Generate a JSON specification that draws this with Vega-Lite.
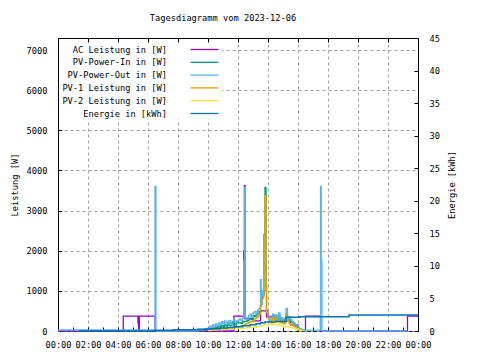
{
  "$schema": "https://vega.github.io/schema/vega-lite/v6.json",
  "autosize": {"type": "none"},
  "padding": {"left": 58, "top": 38, "right": 62, "bottom": 29},
  "width": 360,
  "height": 293,
  "background": "white",
  "title": {"text": "Tagesdiagramm vom 2023-12-06", "font": "DejaVu Sans Mono", "fontSize": 8.7, "fontWeight": "normal", "offset": 11, "dx": -15, "color": "black"},
  "config": {
    "view": {"stroke": "black", "strokeWidth": 1},
    "font": "DejaVu Sans Mono",
    "axis": {"labelFont": "DejaVu Sans Mono", "labelFontSize": 8.7, "labelColor": "black", "titleFont": "DejaVu Sans Mono", "titleFontSize": 8.7, "titleFontWeight": "normal", "titleColor": "black", "domain": false, "tickColor": "black", "tickSize": -4, "gridColor": "#a0a0a0", "gridDash": [3, 3], "gridWidth": 1},
    "legend": {"orient": "none", "legendX": 1, "legendY": 6, "title": null, "symbolType": "M-3,0H3", "symbolSize": 87, "symbolStrokeWidth": 1.3, "symbolOffset": 140, "labelAlign": "right", "labelOffset": -43, "labelFont": "DejaVu Sans Mono", "labelFontSize": 8.7, "labelColor": "black", "rowPadding": 1.8, "fillColor": "white", "padding": 0}
  },
  "data": {"values": [
    {"h": 0, "s": "AC Leistung in [W]", "v": 0},
    {"h": 4.35, "s": "AC Leistung in [W]", "v": 370},
    {"h": 5.33, "s": "AC Leistung in [W]", "v": 200},
    {"h": 5.37, "s": "AC Leistung in [W]", "v": 0},
    {"h": 5.42, "s": "AC Leistung in [W]", "v": 370},
    {"h": 6.47, "s": "AC Leistung in [W]", "v": 0},
    {"h": 11.73, "s": "AC Leistung in [W]", "v": 370},
    {"h": 12.38, "s": "AC Leistung in [W]", "v": 2000},
    {"h": 12.43, "s": "AC Leistung in [W]", "v": 3620},
    {"h": 12.47, "s": "AC Leistung in [W]", "v": 300},
    {"h": 13.0, "s": "AC Leistung in [W]", "v": 250},
    {"h": 13.5, "s": "AC Leistung in [W]", "v": 500},
    {"h": 13.9, "s": "AC Leistung in [W]", "v": 350},
    {"h": 14.5, "s": "AC Leistung in [W]", "v": 250},
    {"h": 15.5, "s": "AC Leistung in [W]", "v": 150},
    {"h": 16.0, "s": "AC Leistung in [W]", "v": 30},
    {"h": 16.5, "s": "AC Leistung in [W]", "v": 370},
    {"h": 17.5, "s": "AC Leistung in [W]", "v": 0},
    {"h": 23.3, "s": "AC Leistung in [W]", "v": 370},
    {"h": 24, "s": "AC Leistung in [W]", "v": 370},

    {"h": 9.3, "s": "PV-Power-In in [W]", "v": 10},
    {"h": 9.4, "s": "PV-Power-In in [W]", "v": 15},
    {"h": 9.5, "s": "PV-Power-In in [W]", "v": 10},
    {"h": 9.6, "s": "PV-Power-In in [W]", "v": 20},
    {"h": 9.7, "s": "PV-Power-In in [W]", "v": 30},
    {"h": 9.8, "s": "PV-Power-In in [W]", "v": 25},
    {"h": 9.9, "s": "PV-Power-In in [W]", "v": 40},
    {"h": 10.0, "s": "PV-Power-In in [W]", "v": 50},
    {"h": 10.1, "s": "PV-Power-In in [W]", "v": 60},
    {"h": 10.2, "s": "PV-Power-In in [W]", "v": 50},
    {"h": 10.3, "s": "PV-Power-In in [W]", "v": 80},
    {"h": 10.4, "s": "PV-Power-In in [W]", "v": 70},
    {"h": 10.5, "s": "PV-Power-In in [W]", "v": 100},
    {"h": 10.6, "s": "PV-Power-In in [W]", "v": 90},
    {"h": 10.7, "s": "PV-Power-In in [W]", "v": 120},
    {"h": 10.8, "s": "PV-Power-In in [W]", "v": 100},
    {"h": 10.9, "s": "PV-Power-In in [W]", "v": 140},
    {"h": 11.0, "s": "PV-Power-In in [W]", "v": 110},
    {"h": 11.1, "s": "PV-Power-In in [W]", "v": 150},
    {"h": 11.2, "s": "PV-Power-In in [W]", "v": 120},
    {"h": 11.3, "s": "PV-Power-In in [W]", "v": 200},
    {"h": 11.4, "s": "PV-Power-In in [W]", "v": 140},
    {"h": 11.5, "s": "PV-Power-In in [W]", "v": 130},
    {"h": 11.6, "s": "PV-Power-In in [W]", "v": 210},
    {"h": 11.7, "s": "PV-Power-In in [W]", "v": 190},
    {"h": 11.8, "s": "PV-Power-In in [W]", "v": 150},
    {"h": 11.9, "s": "PV-Power-In in [W]", "v": 220},
    {"h": 12.0, "s": "PV-Power-In in [W]", "v": 200},
    {"h": 12.1, "s": "PV-Power-In in [W]", "v": 210},
    {"h": 12.2, "s": "PV-Power-In in [W]", "v": 190},
    {"h": 12.3, "s": "PV-Power-In in [W]", "v": 230},
    {"h": 12.4, "s": "PV-Power-In in [W]", "v": 240},
    {"h": 12.5, "s": "PV-Power-In in [W]", "v": 240},
    {"h": 12.6, "s": "PV-Power-In in [W]", "v": 260},
    {"h": 12.7, "s": "PV-Power-In in [W]", "v": 280},
    {"h": 12.8, "s": "PV-Power-In in [W]", "v": 320},
    {"h": 12.9, "s": "PV-Power-In in [W]", "v": 290},
    {"h": 13.0, "s": "PV-Power-In in [W]", "v": 380},
    {"h": 13.1, "s": "PV-Power-In in [W]", "v": 360},
    {"h": 13.2, "s": "PV-Power-In in [W]", "v": 400},
    {"h": 13.3, "s": "PV-Power-In in [W]", "v": 430},
    {"h": 13.4, "s": "PV-Power-In in [W]", "v": 480},
    {"h": 13.5, "s": "PV-Power-In in [W]", "v": 650},
    {"h": 13.6, "s": "PV-Power-In in [W]", "v": 850},
    {"h": 13.68, "s": "PV-Power-In in [W]", "v": 900},
    {"h": 13.73, "s": "PV-Power-In in [W]", "v": 2400},
    {"h": 13.8, "s": "PV-Power-In in [W]", "v": 3580},
    {"h": 13.87, "s": "PV-Power-In in [W]", "v": 1150},
    {"h": 13.9, "s": "PV-Power-In in [W]", "v": 480},
    {"h": 14.0, "s": "PV-Power-In in [W]", "v": 340},
    {"h": 14.1, "s": "PV-Power-In in [W]", "v": 260},
    {"h": 14.2, "s": "PV-Power-In in [W]", "v": 230},
    {"h": 14.3, "s": "PV-Power-In in [W]", "v": 380},
    {"h": 14.4, "s": "PV-Power-In in [W]", "v": 300},
    {"h": 14.5, "s": "PV-Power-In in [W]", "v": 350},
    {"h": 14.6, "s": "PV-Power-In in [W]", "v": 270},
    {"h": 14.7, "s": "PV-Power-In in [W]", "v": 380},
    {"h": 14.8, "s": "PV-Power-In in [W]", "v": 250},
    {"h": 14.9, "s": "PV-Power-In in [W]", "v": 290},
    {"h": 15.0, "s": "PV-Power-In in [W]", "v": 230},
    {"h": 15.1, "s": "PV-Power-In in [W]", "v": 300},
    {"h": 15.2, "s": "PV-Power-In in [W]", "v": 420},
    {"h": 15.3, "s": "PV-Power-In in [W]", "v": 260},
    {"h": 15.4, "s": "PV-Power-In in [W]", "v": 300},
    {"h": 15.5, "s": "PV-Power-In in [W]", "v": 240},
    {"h": 15.6, "s": "PV-Power-In in [W]", "v": 200},
    {"h": 15.7, "s": "PV-Power-In in [W]", "v": 170},
    {"h": 15.8, "s": "PV-Power-In in [W]", "v": 130},
    {"h": 15.9, "s": "PV-Power-In in [W]", "v": 100},
    {"h": 16.0, "s": "PV-Power-In in [W]", "v": 70},
    {"h": 16.1, "s": "PV-Power-In in [W]", "v": 50},
    {"h": 16.2, "s": "PV-Power-In in [W]", "v": 30},
    {"h": 16.3, "s": "PV-Power-In in [W]", "v": 20},
    {"h": 16.4, "s": "PV-Power-In in [W]", "v": 15},
    {"h": 16.5, "s": "PV-Power-In in [W]", "v": 0},

    {"h": 0, "s": "PV-Power-Out in [W]", "v": 25},
    {"h": 6.47, "s": "PV-Power-Out in [W]", "v": 3600},
    {"h": 6.53, "s": "PV-Power-Out in [W]", "v": 0},
    {"h": 9.3, "s": "PV-Power-Out in [W]", "v": 30},
    {"h": 9.4, "s": "PV-Power-Out in [W]", "v": 40},
    {"h": 9.5, "s": "PV-Power-Out in [W]", "v": 25},
    {"h": 9.6, "s": "PV-Power-Out in [W]", "v": 35},
    {"h": 9.7, "s": "PV-Power-Out in [W]", "v": 50},
    {"h": 9.8, "s": "PV-Power-Out in [W]", "v": 40},
    {"h": 9.9, "s": "PV-Power-Out in [W]", "v": 60},
    {"h": 10.0, "s": "PV-Power-Out in [W]", "v": 80},
    {"h": 10.1, "s": "PV-Power-Out in [W]", "v": 120},
    {"h": 10.2, "s": "PV-Power-Out in [W]", "v": 90},
    {"h": 10.3, "s": "PV-Power-Out in [W]", "v": 150},
    {"h": 10.4, "s": "PV-Power-Out in [W]", "v": 110},
    {"h": 10.5, "s": "PV-Power-Out in [W]", "v": 180},
    {"h": 10.6, "s": "PV-Power-Out in [W]", "v": 130},
    {"h": 10.7, "s": "PV-Power-Out in [W]", "v": 200},
    {"h": 10.8, "s": "PV-Power-Out in [W]", "v": 160},
    {"h": 10.9, "s": "PV-Power-Out in [W]", "v": 230},
    {"h": 11.0, "s": "PV-Power-Out in [W]", "v": 180},
    {"h": 11.1, "s": "PV-Power-Out in [W]", "v": 250},
    {"h": 11.2, "s": "PV-Power-Out in [W]", "v": 170},
    {"h": 11.3, "s": "PV-Power-Out in [W]", "v": 220},
    {"h": 11.4, "s": "PV-Power-Out in [W]", "v": 260},
    {"h": 11.5, "s": "PV-Power-Out in [W]", "v": 190},
    {"h": 11.6, "s": "PV-Power-Out in [W]", "v": 240},
    {"h": 11.7, "s": "PV-Power-Out in [W]", "v": 280},
    {"h": 11.8, "s": "PV-Power-Out in [W]", "v": 210},
    {"h": 11.9, "s": "PV-Power-Out in [W]", "v": 250},
    {"h": 12.0, "s": "PV-Power-Out in [W]", "v": 270},
    {"h": 12.1, "s": "PV-Power-Out in [W]", "v": 300},
    {"h": 12.2, "s": "PV-Power-Out in [W]", "v": 260},
    {"h": 12.3, "s": "PV-Power-Out in [W]", "v": 320},
    {"h": 12.38, "s": "PV-Power-Out in [W]", "v": 1750},
    {"h": 12.43, "s": "PV-Power-Out in [W]", "v": 3580},
    {"h": 12.47, "s": "PV-Power-Out in [W]", "v": 330},
    {"h": 12.6, "s": "PV-Power-Out in [W]", "v": 300},
    {"h": 12.7, "s": "PV-Power-Out in [W]", "v": 380},
    {"h": 12.8, "s": "PV-Power-Out in [W]", "v": 420},
    {"h": 12.9, "s": "PV-Power-Out in [W]", "v": 360},
    {"h": 13.0, "s": "PV-Power-Out in [W]", "v": 450},
    {"h": 13.1, "s": "PV-Power-Out in [W]", "v": 480},
    {"h": 13.2, "s": "PV-Power-Out in [W]", "v": 430},
    {"h": 13.3, "s": "PV-Power-Out in [W]", "v": 520},
    {"h": 13.4, "s": "PV-Power-Out in [W]", "v": 560},
    {"h": 13.5, "s": "PV-Power-Out in [W]", "v": 1280},
    {"h": 13.55, "s": "PV-Power-Out in [W]", "v": 800},
    {"h": 13.6, "s": "PV-Power-Out in [W]", "v": 1000},
    {"h": 13.68, "s": "PV-Power-Out in [W]", "v": 900},
    {"h": 13.73, "s": "PV-Power-Out in [W]", "v": 1000},
    {"h": 13.87, "s": "PV-Power-Out in [W]", "v": 1150},
    {"h": 13.9, "s": "PV-Power-Out in [W]", "v": 520},
    {"h": 14.0, "s": "PV-Power-Out in [W]", "v": 380},
    {"h": 14.1, "s": "PV-Power-Out in [W]", "v": 300},
    {"h": 14.2, "s": "PV-Power-Out in [W]", "v": 250},
    {"h": 14.3, "s": "PV-Power-Out in [W]", "v": 420},
    {"h": 14.4, "s": "PV-Power-Out in [W]", "v": 330},
    {"h": 14.5, "s": "PV-Power-Out in [W]", "v": 400},
    {"h": 14.6, "s": "PV-Power-Out in [W]", "v": 300},
    {"h": 14.7, "s": "PV-Power-Out in [W]", "v": 450},
    {"h": 14.8, "s": "PV-Power-Out in [W]", "v": 280},
    {"h": 14.9, "s": "PV-Power-Out in [W]", "v": 330},
    {"h": 15.0, "s": "PV-Power-Out in [W]", "v": 260},
    {"h": 15.1, "s": "PV-Power-Out in [W]", "v": 300},
    {"h": 15.2, "s": "PV-Power-Out in [W]", "v": 560},
    {"h": 15.3, "s": "PV-Power-Out in [W]", "v": 300},
    {"h": 15.4, "s": "PV-Power-Out in [W]", "v": 350},
    {"h": 15.5, "s": "PV-Power-Out in [W]", "v": 280},
    {"h": 15.6, "s": "PV-Power-Out in [W]", "v": 230},
    {"h": 15.7, "s": "PV-Power-Out in [W]", "v": 200},
    {"h": 15.8, "s": "PV-Power-Out in [W]", "v": 160},
    {"h": 15.9, "s": "PV-Power-Out in [W]", "v": 120},
    {"h": 16.0, "s": "PV-Power-Out in [W]", "v": 80},
    {"h": 16.1, "s": "PV-Power-Out in [W]", "v": 60},
    {"h": 16.2, "s": "PV-Power-Out in [W]", "v": 40},
    {"h": 16.3, "s": "PV-Power-Out in [W]", "v": 30},
    {"h": 16.4, "s": "PV-Power-Out in [W]", "v": 25},
    {"h": 16.5, "s": "PV-Power-Out in [W]", "v": 20},
    {"h": 17.5, "s": "PV-Power-Out in [W]", "v": 3600},
    {"h": 17.55, "s": "PV-Power-Out in [W]", "v": 1760},
    {"h": 17.6, "s": "PV-Power-Out in [W]", "v": 0},
    {"h": 23.3, "s": "PV-Power-Out in [W]", "v": 0},

    {"h": 10.0, "s": "PV-1 Leistung in [W]", "v": 20},
    {"h": 10.1, "s": "PV-1 Leistung in [W]", "v": 25},
    {"h": 10.2, "s": "PV-1 Leistung in [W]", "v": 30},
    {"h": 10.3, "s": "PV-1 Leistung in [W]", "v": 35},
    {"h": 10.4, "s": "PV-1 Leistung in [W]", "v": 40},
    {"h": 10.5, "s": "PV-1 Leistung in [W]", "v": 45},
    {"h": 10.6, "s": "PV-1 Leistung in [W]", "v": 40},
    {"h": 10.7, "s": "PV-1 Leistung in [W]", "v": 50},
    {"h": 10.8, "s": "PV-1 Leistung in [W]", "v": 55},
    {"h": 10.9, "s": "PV-1 Leistung in [W]", "v": 60},
    {"h": 11.0, "s": "PV-1 Leistung in [W]", "v": 65},
    {"h": 11.1, "s": "PV-1 Leistung in [W]", "v": 70},
    {"h": 11.2, "s": "PV-1 Leistung in [W]", "v": 60},
    {"h": 11.3, "s": "PV-1 Leistung in [W]", "v": 75},
    {"h": 11.4, "s": "PV-1 Leistung in [W]", "v": 80},
    {"h": 11.5, "s": "PV-1 Leistung in [W]", "v": 70},
    {"h": 11.6, "s": "PV-1 Leistung in [W]", "v": 85},
    {"h": 11.7, "s": "PV-1 Leistung in [W]", "v": 90},
    {"h": 11.8, "s": "PV-1 Leistung in [W]", "v": 95},
    {"h": 11.9, "s": "PV-1 Leistung in [W]", "v": 100},
    {"h": 12.0, "s": "PV-1 Leistung in [W]", "v": 110},
    {"h": 12.1, "s": "PV-1 Leistung in [W]", "v": 120},
    {"h": 12.2, "s": "PV-1 Leistung in [W]", "v": 130},
    {"h": 12.3, "s": "PV-1 Leistung in [W]", "v": 140},
    {"h": 12.4, "s": "PV-1 Leistung in [W]", "v": 150},
    {"h": 12.5, "s": "PV-1 Leistung in [W]", "v": 170},
    {"h": 12.6, "s": "PV-1 Leistung in [W]", "v": 190},
    {"h": 12.7, "s": "PV-1 Leistung in [W]", "v": 210},
    {"h": 12.8, "s": "PV-1 Leistung in [W]", "v": 240},
    {"h": 12.9, "s": "PV-1 Leistung in [W]", "v": 230},
    {"h": 13.0, "s": "PV-1 Leistung in [W]", "v": 260},
    {"h": 13.1, "s": "PV-1 Leistung in [W]", "v": 300},
    {"h": 13.2, "s": "PV-1 Leistung in [W]", "v": 330},
    {"h": 13.3, "s": "PV-1 Leistung in [W]", "v": 360},
    {"h": 13.4, "s": "PV-1 Leistung in [W]", "v": 420},
    {"h": 13.5, "s": "PV-1 Leistung in [W]", "v": 600},
    {"h": 13.55, "s": "PV-1 Leistung in [W]", "v": 750},
    {"h": 13.6, "s": "PV-1 Leistung in [W]", "v": 800},
    {"h": 13.68, "s": "PV-1 Leistung in [W]", "v": 850},
    {"h": 13.73, "s": "PV-1 Leistung in [W]", "v": 2250},
    {"h": 13.8, "s": "PV-1 Leistung in [W]", "v": 3370},
    {"h": 13.87, "s": "PV-1 Leistung in [W]", "v": 1100},
    {"h": 13.9, "s": "PV-1 Leistung in [W]", "v": 450},
    {"h": 14.0, "s": "PV-1 Leistung in [W]", "v": 300},
    {"h": 14.1, "s": "PV-1 Leistung in [W]", "v": 220},
    {"h": 14.2, "s": "PV-1 Leistung in [W]", "v": 200},
    {"h": 14.3, "s": "PV-1 Leistung in [W]", "v": 330},
    {"h": 14.4, "s": "PV-1 Leistung in [W]", "v": 260},
    {"h": 14.5, "s": "PV-1 Leistung in [W]", "v": 300},
    {"h": 14.6, "s": "PV-1 Leistung in [W]", "v": 230},
    {"h": 14.7, "s": "PV-1 Leistung in [W]", "v": 260},
    {"h": 14.8, "s": "PV-1 Leistung in [W]", "v": 200},
    {"h": 14.9, "s": "PV-1 Leistung in [W]", "v": 240},
    {"h": 15.0, "s": "PV-1 Leistung in [W]", "v": 180},
    {"h": 15.1, "s": "PV-1 Leistung in [W]", "v": 200},
    {"h": 15.2, "s": "PV-1 Leistung in [W]", "v": 400},
    {"h": 15.3, "s": "PV-1 Leistung in [W]", "v": 250},
    {"h": 15.4, "s": "PV-1 Leistung in [W]", "v": 190},
    {"h": 15.5, "s": "PV-1 Leistung in [W]", "v": 160},
    {"h": 15.6, "s": "PV-1 Leistung in [W]", "v": 150},
    {"h": 15.7, "s": "PV-1 Leistung in [W]", "v": 120},
    {"h": 15.8, "s": "PV-1 Leistung in [W]", "v": 90},
    {"h": 15.9, "s": "PV-1 Leistung in [W]", "v": 60},
    {"h": 16.0, "s": "PV-1 Leistung in [W]", "v": 40},
    {"h": 16.1, "s": "PV-1 Leistung in [W]", "v": 25},
    {"h": 16.2, "s": "PV-1 Leistung in [W]", "v": 10},
    {"h": 16.3, "s": "PV-1 Leistung in [W]", "v": 0},

    {"h": 10.0, "s": "PV-2 Leistung in [W]", "v": 15},
    {"h": 10.2, "s": "PV-2 Leistung in [W]", "v": 20},
    {"h": 10.4, "s": "PV-2 Leistung in [W]", "v": 25},
    {"h": 10.6, "s": "PV-2 Leistung in [W]", "v": 30},
    {"h": 10.8, "s": "PV-2 Leistung in [W]", "v": 30},
    {"h": 11.0, "s": "PV-2 Leistung in [W]", "v": 35},
    {"h": 11.2, "s": "PV-2 Leistung in [W]", "v": 40},
    {"h": 11.4, "s": "PV-2 Leistung in [W]", "v": 45},
    {"h": 11.6, "s": "PV-2 Leistung in [W]", "v": 50},
    {"h": 11.8, "s": "PV-2 Leistung in [W]", "v": 55},
    {"h": 12.0, "s": "PV-2 Leistung in [W]", "v": 60},
    {"h": 12.2, "s": "PV-2 Leistung in [W]", "v": 70},
    {"h": 12.4, "s": "PV-2 Leistung in [W]", "v": 75},
    {"h": 12.6, "s": "PV-2 Leistung in [W]", "v": 85},
    {"h": 12.8, "s": "PV-2 Leistung in [W]", "v": 90},
    {"h": 13.0, "s": "PV-2 Leistung in [W]", "v": 100},
    {"h": 13.2, "s": "PV-2 Leistung in [W]", "v": 110},
    {"h": 13.4, "s": "PV-2 Leistung in [W]", "v": 130},
    {"h": 13.6, "s": "PV-2 Leistung in [W]", "v": 150},
    {"h": 13.8, "s": "PV-2 Leistung in [W]", "v": 160},
    {"h": 14.0, "s": "PV-2 Leistung in [W]", "v": 170},
    {"h": 14.1, "s": "PV-2 Leistung in [W]", "v": 180},
    {"h": 14.2, "s": "PV-2 Leistung in [W]", "v": 160},
    {"h": 14.3, "s": "PV-2 Leistung in [W]", "v": 190},
    {"h": 14.4, "s": "PV-2 Leistung in [W]", "v": 170},
    {"h": 14.6, "s": "PV-2 Leistung in [W]", "v": 150},
    {"h": 14.8, "s": "PV-2 Leistung in [W]", "v": 130},
    {"h": 15.0, "s": "PV-2 Leistung in [W]", "v": 110},
    {"h": 15.2, "s": "PV-2 Leistung in [W]", "v": 95},
    {"h": 15.4, "s": "PV-2 Leistung in [W]", "v": 85},
    {"h": 15.6, "s": "PV-2 Leistung in [W]", "v": 70},
    {"h": 15.8, "s": "PV-2 Leistung in [W]", "v": 50},
    {"h": 16.0, "s": "PV-2 Leistung in [W]", "v": 30},
    {"h": 16.2, "s": "PV-2 Leistung in [W]", "v": 10},
    {"h": 16.4, "s": "PV-2 Leistung in [W]", "v": 0},

    {"h": 1.4, "s": "Energie in [kWh]", "v": 0},
    {"h": 6.47, "s": "Energie in [kWh]", "v": 0.1},
    {"h": 7.7, "s": "Energie in [kWh]", "v": 0.2},
    {"h": 9.3, "s": "Energie in [kWh]", "v": 0.25},
    {"h": 9.8, "s": "Energie in [kWh]", "v": 0.3},
    {"h": 10.3, "s": "Energie in [kWh]", "v": 0.35},
    {"h": 10.8, "s": "Energie in [kWh]", "v": 0.45},
    {"h": 11.3, "s": "Energie in [kWh]", "v": 0.55},
    {"h": 11.8, "s": "Energie in [kWh]", "v": 0.65},
    {"h": 12.3, "s": "Energie in [kWh]", "v": 0.8},
    {"h": 12.8, "s": "Energie in [kWh]", "v": 0.95},
    {"h": 13.2, "s": "Energie in [kWh]", "v": 1.1},
    {"h": 13.5, "s": "Energie in [kWh]", "v": 1.25},
    {"h": 13.8, "s": "Energie in [kWh]", "v": 1.4},
    {"h": 14.5, "s": "Energie in [kWh]", "v": 1.45},
    {"h": 15.2, "s": "Energie in [kWh]", "v": 2.1},
    {"h": 16.1, "s": "Energie in [kWh]", "v": 2.2},
    {"h": 19.4, "s": "Energie in [kWh]", "v": 2.45},
    {"h": 24, "s": "Energie in [kWh]", "v": 2.45}
  ]},
  "layer": [
    {
      "transform": [{"filter": "datum.s != 'Energie in [kWh]'"}],
      "mark": {"type": "line", "interpolate": "step-after", "strokeWidth": 1.3},
      "encoding": {
        "x": {"field": "h", "type": "quantitative", "scale": {"domain": [0, 24], "nice": false},
          "axis": {"title": null, "values": [0,1,2,3,4,5,6,7,8,9,10,11,12,13,14,15,16,17,18,19,20,21,22,23,24], "labelPadding": 13, "labelFlush": false, "labelOverlap": false,
            "labelExpr": "datum.value % 2 == 0 ? ((datum.value % 24) < 10 ? '0' : '') + (datum.value % 24) + ':00' : ''",
            "gridOpacity": {"condition": {"test": "datum.value % 2 == 1 || datum.value == 0 || datum.value == 24", "value": 0}, "value": 1}}},
        "y": {"field": "v", "type": "quantitative", "scale": {"domain": [0, 7300], "nice": false},
          "axis": {"title": "Leistung [W]", "format": "d", "values": [0,1000,2000,3000,4000,5000,6000,7000], "labelPadding": 15, "titlePadding": 7}},
        "color": {"field": "s", "type": "nominal",
          "scale": {"domain": ["AC Leistung in [W]", "PV-Power-In in [W]", "PV-Power-Out in [W]", "PV-1 Leistung in [W]", "PV-2 Leistung in [W]", "Energie in [kWh]"],
                    "range": ["#9400d3", "#009e73", "#56b4e9", "#e69f00", "#f0e442", "#0072b2"]},
          "legend": {}},
        "order": {"field": "h", "type": "quantitative"}
      }
    },
    {
      "transform": [{"filter": "datum.s == 'Energie in [kWh]'"}],
      "mark": {"type": "line", "interpolate": "step-after", "strokeWidth": 1.5},
      "encoding": {
        "x": {"field": "h", "type": "quantitative",
          "axis": {"orient": "top", "labels": false, "grid": false, "values": [0,2,4,6,8,10,12,14,16,18,20,22,24], "title": null}},
        "y": {"field": "v", "type": "quantitative", "scale": {"domain": [0, 45], "nice": false},
          "axis": {"title": "Energie [kWh]", "orient": "right", "grid": false, "format": "d", "values": [0,5,10,15,20,25,30,35,40,45], "labelPadding": 15, "titlePadding": 17, "titleAngle": -90}},
        "color": {"field": "s", "type": "nominal"},
        "order": {"field": "h", "type": "quantitative"}
      }
    }
  ],
  "resolve": {"scale": {"y": "independent"}, "axis": {"x": "independent", "y": "independent"}}
}
